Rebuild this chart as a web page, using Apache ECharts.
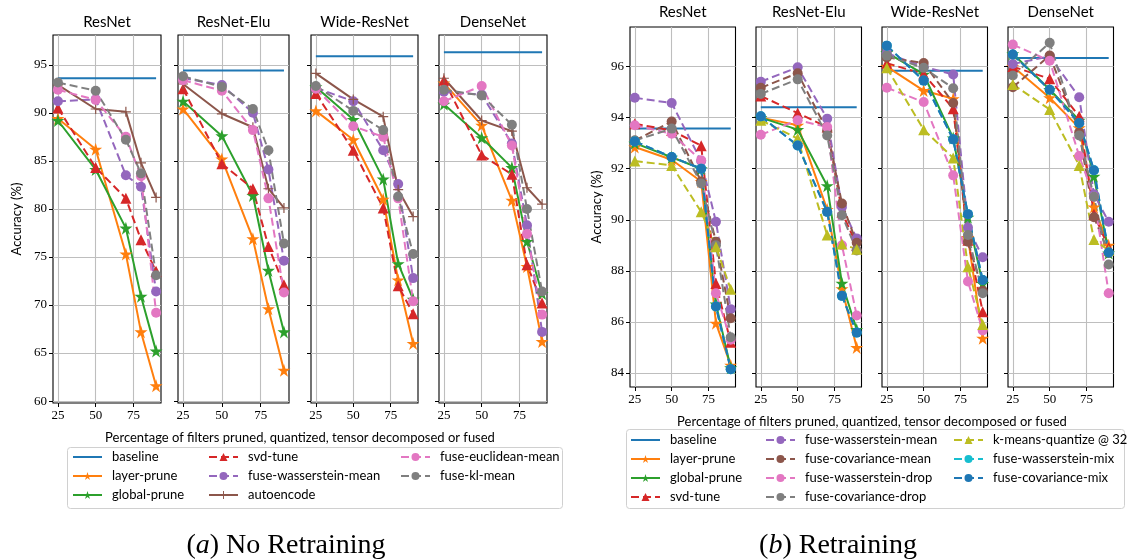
<!DOCTYPE html>
<html>
<head>
<meta charset="utf-8">
<script src="https://cdn.jsdelivr.net/npm/echarts@6/dist/echarts.min.js"></script>
<style>html,body{margin:0;padding:0;background:#fff;}#chart{width:1127px;height:560px;}</style>
</head>
<body>
<div id="chart"></div>
<script>
// ---------------- DATA ----------------
const xValues = [25, 50, 70, 80, 90];
const modelTitles = ['ResNet', 'ResNet-Elu', 'Wide-ResNet', 'DenseNet'];
const xTickValues = [25, 50, 75];
const leftYTicks = [60, 65, 70, 75, 80, 85, 90, 95];
const rightYTicks = [84, 86, 88, 90, 92, 94, 96];

// (a) No Retraining — rows: ResNet, ResNet-Elu, Wide-ResNet, DenseNet
const leftBaseline = [93.6, 94.4, 95.9, 96.3];
const leftLayerPrune = [[89.4, 86.2, 75.3, 67.2, 61.6], [90.4, 85.2, 76.9, 69.6, 63.2], [90.2, 87.2, 81.0, 72.6, 66.0], [93.1, 88.7, 80.9, 74.0, 66.2]];
const leftGlobalPrune = [[89.2, 84.1, 78.0, 70.9, 65.2], [91.2, 87.6, 81.4, 73.6, 67.2], [92.7, 89.3, 83.1, 74.3, 70.6], [90.9, 87.4, 84.3, 76.6, 71.2]];
const leftSvdTune = [[90.5, 84.3, 81.1, 76.8, 73.5], [92.5, 84.7, 82.1, 76.1, 72.1], [92.0, 86.1, 80.1, 72.0, 69.1], [93.4, 85.6, 83.6, 74.2, 70.2]];
const leftWassMean = [[91.2, 91.4, 83.5, 82.3, 71.4], [93.6, 92.9, 90.0, 84.1, 74.6], [92.6, 91.2, 86.1, 82.6, 72.8], [92.2, 91.9, 86.8, 78.3, 67.2]];
const leftAutoencode = [[92.9, 90.4, 90.1, 84.8, 81.2], [93.0, 89.9, 88.5, 82.1, 80.1], [94.1, 91.4, 89.6, 82.0, 79.2], [93.6, 89.2, 88.1, 82.2, 80.5]];
const leftEuclidMean = [[92.4, 91.35, 87.5, 83.4, 69.2], [93.4, 92.3, 88.2, 81.1, 71.3], [92.5, 88.6, 87.5, 81.1, 70.4], [91.2, 92.8, 86.6, 77.4, 69.0]];
const leftKlMean = [[93.15, 92.3, 87.2, 83.7, 73.1], [93.8, 92.7, 90.4, 86.1, 76.4], [92.8, 90.2, 88.2, 81.3, 75.3], [92.4, 91.8, 88.75, 80.0, 71.4]];

// (b) Retraining
const rightBaseline = [93.57, 94.41, 95.84, 96.34];
const rightLayerPrune = [[92.85, 92.35, 91.5, 85.95, 84.3], [94.0, 93.7, 90.4, 87.3, 85.0], [96.0, 95.06, 94.74, 89.3, 85.36], [96.0, 94.78, 93.6, 90.5, 89.0]];
const rightGlobalPrune = [[93.0, 92.45, 92.0, 86.7, 84.2], [94.0, 93.53, 91.33, 87.51, 85.7], [96.55, 95.7, 93.2, 90.1, 87.5], [96.5, 95.1, 93.9, 91.7, 88.7]];
const rightSvdTune = [[93.76, 93.5, 92.9, 87.5, 85.2], [94.85, 94.18, 93.63, 90.3, 89.0], [96.13, 95.71, 94.35, 89.2, 86.4], [96.0, 95.52, 94.05, 90.22, 88.9]];
const rightWassMean = [[94.78, 94.57, 92.3, 89.92, 86.5], [95.41, 95.97, 93.96, 90.5, 89.27], [96.52, 96.0, 95.69, 89.7, 88.53], [96.1, 96.4, 94.8, 91.0, 89.92]];
const rightCovMean = [[93.1, 93.85, 91.5, 89.14, 86.14], [95.17, 95.74, 93.5, 90.64, 89.1], [96.36, 96.14, 94.57, 89.14, 87.22], [95.19, 96.43, 93.43, 90.1, 88.7]];
const rightWassDrop = [[93.7, 93.37, 92.33, 87.12, 85.3], [93.33, 93.9, 93.63, 89.0, 86.25], [95.17, 94.61, 91.74, 87.58, 85.66], [96.86, 96.23, 92.5, 90.9, 87.12]];
const rightCovDrop = [[93.1, 93.57, 91.42, 89.0, 85.4], [94.93, 95.5, 93.3, 90.18, 88.8], [96.43, 95.95, 95.15, 89.4, 87.12], [95.65, 96.93, 93.3, 90.9, 88.25]];
const rightKmeans = [[92.3, 92.13, 90.31, 88.94, 87.28], [93.9, 93.18, 89.4, 89.05, 88.85], [95.95, 93.53, 92.42, 88.16, 85.9], [95.3, 94.32, 92.13, 89.23, 88.8]];
const rightWassMix = [[93.07, 92.46, 92.0, 86.6, 84.15], [94.05, 92.91, 90.31, 87.02, 85.58], [96.82, 95.45, 93.15, 90.22, 87.64], [96.47, 95.09, 93.79, 91.94, 88.72]];
const rightCovMix = [[93.07, 92.46, 92.0, 86.6, 84.15], [94.05, 92.91, 90.31, 87.02, 85.58], [96.82, 95.45, 93.15, 90.22, 87.64], [96.47, 95.09, 93.79, 91.94, 88.72]];

// ---------------- STYLE ----------------
const C = {blue:'#1f77b4', orange:'#ff7f0e', green:'#2ca02c', red:'#d62728', purple:'#9467bd', brown:'#8c564b', pink:'#e377c2', gray:'#7f7f7f', olive:'#bcbd22', cyan:'#17becf'};
const STAR = 'path://M50,0 L61.23,34.55 L97.55,34.55 L68.17,55.9 L79.39,90.45 L50,69.1 L20.61,90.45 L31.83,55.9 L2.45,34.55 L38.77,34.55 Z';
const PLUS = 'path://M4.4,0 L5.6,0 L5.6,4.4 L10,4.4 L10,5.6 L5.6,5.6 L5.6,10 L4.4,10 L4.4,5.6 L0,5.6 L0,4.4 L4.4,4.4 Z';
const SANS = 'Lato';
const SERIF = 'Liberation Serif';

const leftMethods = [
  {name:'baseline', base:leftBaseline, color:C.blue, symbol:'none', size:0, dash:false},
  {name:'layer-prune', vals:leftLayerPrune, color:C.orange, symbol:STAR, size:13, dash:false},
  {name:'global-prune', vals:leftGlobalPrune, color:C.green, symbol:STAR, size:13, dash:false},
  {name:'svd-tune', vals:leftSvdTune, color:C.red, symbol:'triangle', size:11, dash:true},
  {name:'fuse-wasserstein-mean', vals:leftWassMean, color:C.purple, symbol:'circle', size:10, dash:true},
  {name:'autoencode', vals:leftAutoencode, color:C.brown, symbol:PLUS, size:10, dash:false},
  {name:'fuse-euclidean-mean', vals:leftEuclidMean, color:C.pink, symbol:'circle', size:10, dash:true},
  {name:'fuse-kl-mean', vals:leftKlMean, color:C.gray, symbol:'circle', size:10, dash:true}
];
const rightMethods = [
  {name:'baseline', base:rightBaseline, color:C.blue, symbol:'none', size:0, dash:false},
  {name:'layer-prune', vals:rightLayerPrune, color:C.orange, symbol:STAR, size:13, dash:false},
  {name:'global-prune', vals:rightGlobalPrune, color:C.green, symbol:STAR, size:13, dash:false},
  {name:'svd-tune', vals:rightSvdTune, color:C.red, symbol:'triangle', size:11, dash:true},
  {name:'fuse-wasserstein-mean', vals:rightWassMean, color:C.purple, symbol:'circle', size:10, dash:true},
  {name:'fuse-covariance-mean', vals:rightCovMean, color:C.brown, symbol:'circle', size:10, dash:true},
  {name:'fuse-wasserstein-drop', vals:rightWassDrop, color:C.pink, symbol:'circle', size:10, dash:true},
  {name:'fuse-covariance-drop', vals:rightCovDrop, color:C.gray, symbol:'circle', size:10, dash:true},
  {name:'k-means-quantize @ 32', vals:rightKmeans, color:C.olive, symbol:'triangle', size:11, dash:true},
  {name:'fuse-wasserstein-mix', vals:rightWassMix, color:C.cyan, symbol:'circle', size:10, dash:true},
  {name:'fuse-covariance-mix', vals:rightCovMix, color:C.blue, symbol:'circle', size:10, dash:true}
];

// ---------------- LAYOUT ----------------
const leftGridPos = [{left:53, width:108}, {left:178, width:111}, {left:311, width:107}, {left:439, width:108}];
const rightGridPos = [{left:630, width:105.5}, {left:756, width:105.5}, {left:882, width:105.5}, {left:1008, width:105.5}];
const LEFT_TOP = 35, LEFT_H = 368, RIGHT_TOP = 27, RIGHT_H = 360;
const X_MIN = 21.75, X_MAX = 93.25;

const grids = [], xAxes = [], yAxes = [], series = [], graphics = [];

function addPanel(pos, top, h, yMin, yMax, yTicks, methods, panelTitleY) {
  pos.forEach((p, m) => {
    const gi = grids.length;
    grids.push({left:p.left, top:top, width:p.width, height:h, show:true, borderColor:'#000', borderWidth:1.1, backgroundColor:'transparent'});
    xAxes.push({
      type:'value', gridIndex:gi, min:X_MIN, max:X_MAX,
      axisLine:{show:false},
      axisTick:{show:true, length:4, customValues:xTickValues, lineStyle:{color:'#000', width:1}},
      axisLabel:{customValues:xTickValues, fontFamily:SERIF, fontSize:13, color:'#000', margin:6},
      splitLine:{show:true, lineStyle:{color:'#bebebe', width:1.1}}
    });
    yAxes.push({
      type:'value', gridIndex:gi, min:yMin, max:yMax,
      axisLine:{show:false},
      axisTick:{show:true, length:4, customValues:yTicks, lineStyle:{color:'#000', width:1}},
      axisLabel:{show:m === 0, customValues:yTicks, fontFamily:SERIF, fontSize:13, color:'#000', margin:6},
      splitLine:{show:true, lineStyle:{color:'#bebebe', width:1.1}}
    });
    methods.forEach(md => {
      const vals = md.base ? xValues.map(() => md.base[m]) : md.vals[m];
      series.push({
        type:'line', name:md.name, xAxisIndex:gi, yAxisIndex:gi,
        data: xValues.map((x, i) => [x, vals[i]]),
        symbol: md.symbol, symbolSize: md.size, showSymbol: !md.base,
        lineStyle:{color:md.color, width:2, type: md.dash ? [8, 4] : 'solid'},
        itemStyle:{color:md.color},
        emphasis:{disabled:true}, animation:false
      });
    });
    graphics.push({type:'text', x:p.left + p.width / 2, y:panelTitleY,
      style:{text:modelTitles[m], fontFamily:SANS, fontSize:15, fill:'#000', textAlign:'center', textVerticalAlign:'middle'}});
  });
}
addPanel(leftGridPos, LEFT_TOP, LEFT_H, 59.8, 98.1, leftYTicks, leftMethods, 22.5);
addPanel(rightGridPos, RIGHT_TOP, RIGHT_H, 83.45, 97.55, rightYTicks, rightMethods, 12);

// axis titles
graphics.push({type:'text', x:300, y:438, style:{text:'Percentage of filters pruned, quantized, tensor decomposed or fused', fontFamily:SANS, fontSize:13, fill:'#000', textAlign:'center', textVerticalAlign:'middle'}});
graphics.push({type:'text', x:872, y:422, style:{text:'Percentage of filters pruned, quantized, tensor decomposed or fused', fontFamily:SANS, fontSize:13, fill:'#000', textAlign:'center', textVerticalAlign:'middle'}});
graphics.push({type:'text', x:17, y:219, rotation:Math.PI / 2, style:{text:'Accuracy (%)', fontFamily:SANS, fontSize:13, fill:'#000', textAlign:'center', textVerticalAlign:'middle'}});
graphics.push({type:'text', x:597, y:207, rotation:Math.PI / 2, style:{text:'Accuracy (%)', fontFamily:SANS, fontSize:13, fill:'#000', textAlign:'center', textVerticalAlign:'middle'}});
// legend frames
graphics.push({type:'rect', shape:{x:67.5, y:447.5, width:495, height:61, r:3}, style:{fill:'#fff', stroke:'#d0d0d0', lineWidth:1}, z:-1});
graphics.push({type:'rect', shape:{x:626.5, y:429.5, width:498, height:79, r:3}, style:{fill:'#fff', stroke:'#d0d0d0', lineWidth:1}, z:-1});
// captions
graphics.push({type:'text', x:286, y:546, style:{text:'{p|(}{i|a}{p|) No Retraining}', textAlign:'center', textVerticalAlign:'middle',
  rich:{p:{fontFamily:SERIF, fontSize:28, fill:'#000'}, i:{fontFamily:SERIF, fontStyle:'italic', fontSize:28, fill:'#000'}}}});
graphics.push({type:'text', x:838, y:546, style:{text:'{p|(}{i|b}{p|) Retraining}', textAlign:'center', textVerticalAlign:'middle',
  rich:{p:{fontFamily:SERIF, fontSize:28, fill:'#000'}, i:{fontFamily:SERIF, fontStyle:'italic', fontSize:28, fill:'#000'}}}});

function legendItem(name) {
  // the baseline has no marker: hide the default legend marker for it
  return name === 'baseline' ? {name:name, itemStyle:{opacity:0}} : {name:name};
}
function legendCol(names, left, top) {
  return {
    orient:'vertical', left:left, top:top, itemWidth:29, itemHeight:10, itemGap:5,
    selectedMode:false, padding:0, data:names.map(legendItem),
    textStyle:{fontFamily:SANS, fontSize:13, color:'#000', lineHeight:14, padding:[0, 0, 0, 5]}
  };
}
const legends = [
  legendCol(['baseline', 'layer-prune', 'global-prune'], 72, 450),
  legendCol(['svd-tune', 'fuse-wasserstein-mean', 'autoencode'], 208, 450),
  legendCol(['fuse-euclidean-mean', 'fuse-kl-mean'], 400, 450),
  legendCol(['baseline', 'layer-prune', 'global-prune', 'svd-tune'], 630, 433),
  legendCol(['fuse-wasserstein-mean', 'fuse-covariance-mean', 'fuse-wasserstein-drop', 'fuse-covariance-drop'], 765, 433),
  legendCol(['k-means-quantize @ 32', 'fuse-wasserstein-mix', 'fuse-covariance-mix'], 953, 433)
];

const chart = echarts.init(document.getElementById('chart'), null, {renderer:'canvas'});
chart.setOption({
  animation:false,
  backgroundColor:'#fff',
  grid:grids, xAxis:xAxes, yAxis:yAxes, series:series,
  legend:legends, graphic:graphics
});
</script>
</body>
</html>
